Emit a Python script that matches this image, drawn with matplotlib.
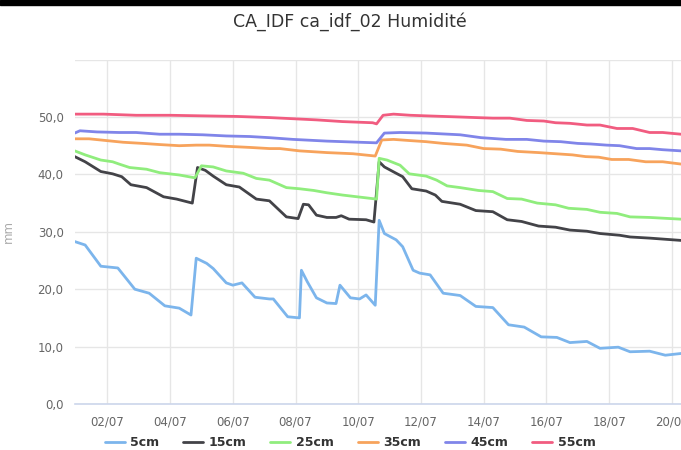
from datetime import datetime, timedelta
import matplotlib
matplotlib.use("Agg")
import matplotlib.pyplot as plt
import matplotlib.dates as mdates
from matplotlib.ticker import FuncFormatter, FixedLocator
from matplotlib.patches import Rectangle

# Readings (hours since 01/07 00:00, humidity in mm)
h_5cm = [-1, 7, 19, 32, 45, 56, 68, 79, 88, 92, 100, 105, 115, 120, 127, 137, 148, 151, 162, 171,
         172.5, 177, 184, 192, 199, 202, 210, 217, 222, 229, 232, 236, 245, 250, 258, 263, 271, 281,
         294, 306, 319, 331, 343, 356, 368, 378, 391, 401, 415, 424, 439, 451, 463]
v_5cm = [28.3, 27.7, 24.0, 23.7, 20.0, 19.3, 17.1, 16.7, 15.5, 25.4, 24.5, 23.6, 21.1, 20.7, 21.1, 18.6, 18.3, 18.3, 15.2, 15.0,
         23.3, 21.3, 18.5, 17.6, 17.5, 20.7, 18.5, 18.3, 19.0, 17.2, 32.0, 29.7, 28.6, 27.4, 23.3, 22.8, 22.5, 19.3,
         18.9, 17.0, 16.8, 13.8, 13.4, 11.7, 11.6, 10.7, 10.9, 9.7, 9.9, 9.1, 9.2, 8.5, 8.8]

h_15cm = [-1, 7, 19, 28, 35, 42, 54, 67, 77, 89, 93, 99, 105, 115, 125, 138, 148, 161, 170, 174, 178,
          184, 192, 199, 203, 209, 222, 228, 232, 236, 245, 250, 257, 268, 275, 280, 294, 306, 319, 330,
          341, 354, 367, 378, 391, 401, 416, 424, 439, 463]
v_15cm = [43.1, 42.2, 40.5, 40.1, 39.6, 38.2, 37.7, 36.1, 35.7, 35.0, 41.2, 40.7, 39.7, 38.2, 37.8, 35.7, 35.4, 32.6, 32.3, 34.8, 34.7,
          32.9, 32.5, 32.5, 32.8, 32.2, 32.1, 31.7, 42.2, 41.3, 40.2, 39.6, 37.5, 37.1, 36.4, 35.3, 34.8, 33.7, 33.5, 32.1,
          31.8, 31.0, 30.8, 30.3, 30.1, 29.7, 29.4, 29.1, 28.9, 28.5]

h_25cm = [-1, 7, 19, 28, 33, 41, 54, 64, 79, 91, 96, 105, 115, 128, 138, 148, 161, 171, 182, 192, 204,
          230, 232, 238, 248, 255, 268, 276, 284, 294, 308, 319, 330, 341, 353, 367, 377, 391, 401, 414,
          424, 439, 463]
v_25cm = [44.1, 43.4, 42.5, 42.2, 41.8, 41.2, 40.9, 40.3, 39.9, 39.4, 41.5, 41.3, 40.6, 40.2, 39.3, 39.0, 37.7, 37.5, 37.2, 36.8, 36.4,
          35.7, 42.8, 42.5, 41.6, 40.1, 39.7, 39.0, 38.0, 37.7, 37.2, 37.0, 35.8, 35.7, 35.0, 34.7, 34.1, 33.9, 33.4, 33.2,
          32.6, 32.5, 32.2]

h_35cm = [-1, 10, 23, 36, 51, 64, 79, 92, 102, 115, 133, 148, 156, 171, 192, 212, 229, 234, 243, 255, 268,
          281, 299, 312, 325, 338, 354, 367, 380, 390, 400, 410, 423, 436, 449, 463]
v_35cm = [46.2, 46.2, 45.9, 45.6, 45.4, 45.2, 45.0, 45.1, 45.1, 44.9, 44.7, 44.5, 44.5, 44.1, 43.8, 43.6, 43.2, 46.0, 46.1, 45.9, 45.7,
          45.4, 45.1, 44.5, 44.4, 44.0, 43.8, 43.6, 43.4, 43.1, 43.0, 42.6, 42.6, 42.2, 42.2, 41.8]

h_45cm = [-1, 3, 16, 33, 46, 64, 79, 97, 115, 133, 148, 166, 192, 217, 230, 236, 248, 268, 294, 310,
          329, 345, 358, 371, 384, 394, 406, 416, 429, 439, 449, 463]
v_45cm = [47.2, 47.6, 47.4, 47.3, 47.3, 47.0, 47.0, 46.9, 46.7, 46.6, 46.4, 46.1, 45.8, 45.6, 45.5, 47.2, 47.3, 47.2, 46.9, 46.4,
          46.1, 46.1, 45.8, 45.7, 45.4, 45.3, 45.1, 45.0, 44.5, 44.5, 44.3, 44.1]

h_55cm = [-1, 21, 46, 72, 97, 123, 148, 166, 184, 204, 227, 230, 235, 243, 256, 268, 294, 306, 319,
          332, 345, 358, 367, 378, 391, 401, 414, 426, 439, 449, 463]
v_55cm = [50.5, 50.5, 50.3, 50.3, 50.2, 50.1, 49.9, 49.7, 49.5, 49.2, 49.0, 48.8, 50.3, 50.5, 50.3, 50.2, 50.0, 49.9, 49.8,
          49.8, 49.4, 49.3, 49.0, 48.9, 48.6, 48.6, 48.0, 48.0, 47.3, 47.3, 47.0]

SERIES = [
    ("5cm", h_5cm, v_5cm, "#7cb5ec"),
    ("15cm", h_15cm, v_15cm, "#434348"),
    ("25cm", h_25cm, v_25cm, "#90ed7d"),
    ("35cm", h_35cm, v_35cm, "#f7a35c"),
    ("45cm", h_45cm, v_45cm, "#8085e9"),
    ("55cm", h_55cm, v_55cm, "#f15c80"),
]

START = datetime(2023, 7, 1)


def to_dates(hours):
    return [START + timedelta(hours=h) for h in hours]


plt.rcParams["font.family"] = ["DejaVu Sans"]

fig = plt.figure(figsize=(6.81, 4.5), dpi=100)
ax = fig.add_axes([74.7 / 681, 46 / 450, 1 - 74.7 / 681, 344.4 / 450])

for name, hours, vals, color in SERIES:
    ax.plot(to_dates(hours), vals, color=color, linewidth=2, label=name,
            solid_joinstyle="round", solid_capstyle="round")

ax.set_xlim(START + timedelta(hours=-1), START + timedelta(hours=463))
ax.set_ylim(0, 60)
ax.yaxis.set_major_locator(FixedLocator([0, 10, 20, 30, 40, 50, 60]))
ax.yaxis.set_major_formatter(FuncFormatter(lambda v, p: "" if v >= 60 else f"{v:.1f}".replace(".", ",")))
ax.xaxis.set_major_locator(mdates.DayLocator(bymonthday=range(2, 32, 2)))
ax.xaxis.set_major_formatter(mdates.DateFormatter("%d/%m"))

ax.grid(True, color="#e6e6e6", linewidth=1)
ax.set_axisbelow(True)
for side in ["top", "right", "left"]:
    ax.spines[side].set_visible(False)
ax.spines["bottom"].set_color("#ccd6eb")
ax.spines["bottom"].set_linewidth(1.2)
ax.tick_params(axis="both", length=0, labelsize=8.5, labelcolor="#666666")
ax.tick_params(axis="x", pad=8)
ax.tick_params(axis="y", pad=8)
ax.set_ylabel("mm", color="#aaaaaa", fontsize=8.5)
ax.yaxis.set_label_coords(-(74.7 - 15) / 606.3, 0.5)

fig.text(350 / 681, 1 - 22 / 450, "CA_IDF ca_idf_02 Humidité", ha="center", va="center",
         fontsize=12.5, color="#333333")

fig.legend(loc="center", bbox_to_anchor=(350 / 681, 1 - 443 / 450), ncol=6, frameon=False,
           handlelength=1.6, columnspacing=1.9, handletextpad=0.45,
           prop={"weight": "bold", "size": 9}, labelcolor="#333333")

fig.patches.append(Rectangle((0, 1 - 5 / 450), 1, 5 / 450, transform=fig.transFigure,
                             color="black", zorder=10))

fig.savefig("out.png", dpi=100)
